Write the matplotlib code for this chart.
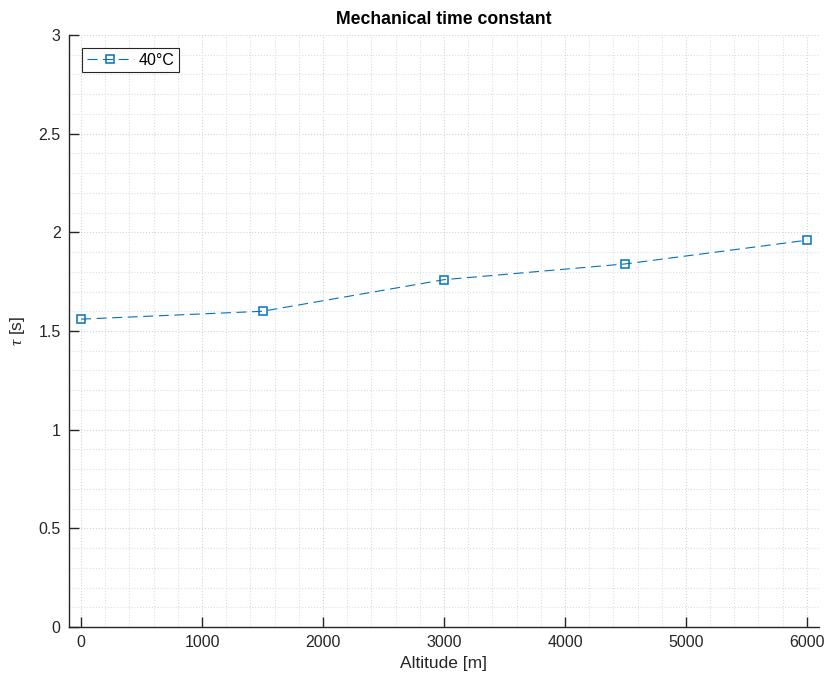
import matplotlib
matplotlib.use("Agg")
import matplotlib.pyplot as plt
from matplotlib.ticker import MultipleLocator

plt.rcParams['font.family'] = ['Liberation Sans', 'DejaVu Sans']
plt.rcParams['mathtext.fontset'] = 'custom'
plt.rcParams['mathtext.it'] = 'Liberation Serif:italic'
plt.rcParams['mathtext.rm'] = 'Liberation Sans'

altitude = [0, 1500, 3000, 4500, 6000]
tau_40C = [1.56, 1.60, 1.76, 1.84, 1.96]
series_label = "40°C"
title = "Mechanical time constant"
xlabel = "Altitude [m]"
ylabel = r"$\tau$ [s]"

fig = plt.figure(figsize=(8.38, 6.78), dpi=100)
ax = fig.add_axes([0.0823, 0.0752, 0.8950, 0.8732])

color = '#0072BD'
ax.plot(altitude, tau_40C, linestyle=(0, (9, 5)), color=color, linewidth=0.8,
        marker='s', markersize=5.8, markerfacecolor='none', markeredgecolor=color,
        markeredgewidth=1.1, label=series_label)

ax.set_xlim(-100, 6100)
ax.set_ylim(0, 3)
ax.xaxis.set_major_locator(MultipleLocator(1000))
ax.xaxis.set_minor_locator(MultipleLocator(200))
ax.yaxis.set_minor_locator(MultipleLocator(0.1))
ax.set_yticks([0, 0.5, 1, 1.5, 2, 2.5, 3])
ax.set_yticklabels(['0', '0.5', '1', '1.5', '2', '2.5', '3'])

ax.grid(which='major', linestyle=':', color='#d4d4d4', linewidth=0.8)
ax.grid(which='minor', linestyle=':', color='#dedede', linewidth=0.8)
ax.set_axisbelow(True)

for s in ['top', 'right']:
    ax.spines[s].set_visible(False)
for s in ['left', 'bottom']:
    ax.spines[s].set_linewidth(1.0)
    ax.spines[s].set_color('#262626')

ax.tick_params(which='major', direction='in', length=7, width=1.0, labelsize=11.5,
               colors='#262626', pad=6)
ax.tick_params(which='minor', length=0)

ax.set_title(title, fontsize=12.7, fontweight='bold', pad=8)
ax.set_xlabel(xlabel, fontsize=12.5, color='#262626', labelpad=4)
ax.set_ylabel(ylabel, fontsize=12.5, color='#262626', labelpad=8)

leg = ax.legend(loc='upper left', fontsize=11.5, frameon=True, fancybox=False,
                borderaxespad=0.8, handlelength=3.0, borderpad=0.3,
                handletextpad=0.25)
leg.get_frame().set_edgecolor('#262626')
leg.get_frame().set_linewidth(0.8)
leg.get_frame().set_alpha(1)

fig.savefig('out.png', dpi=100)
